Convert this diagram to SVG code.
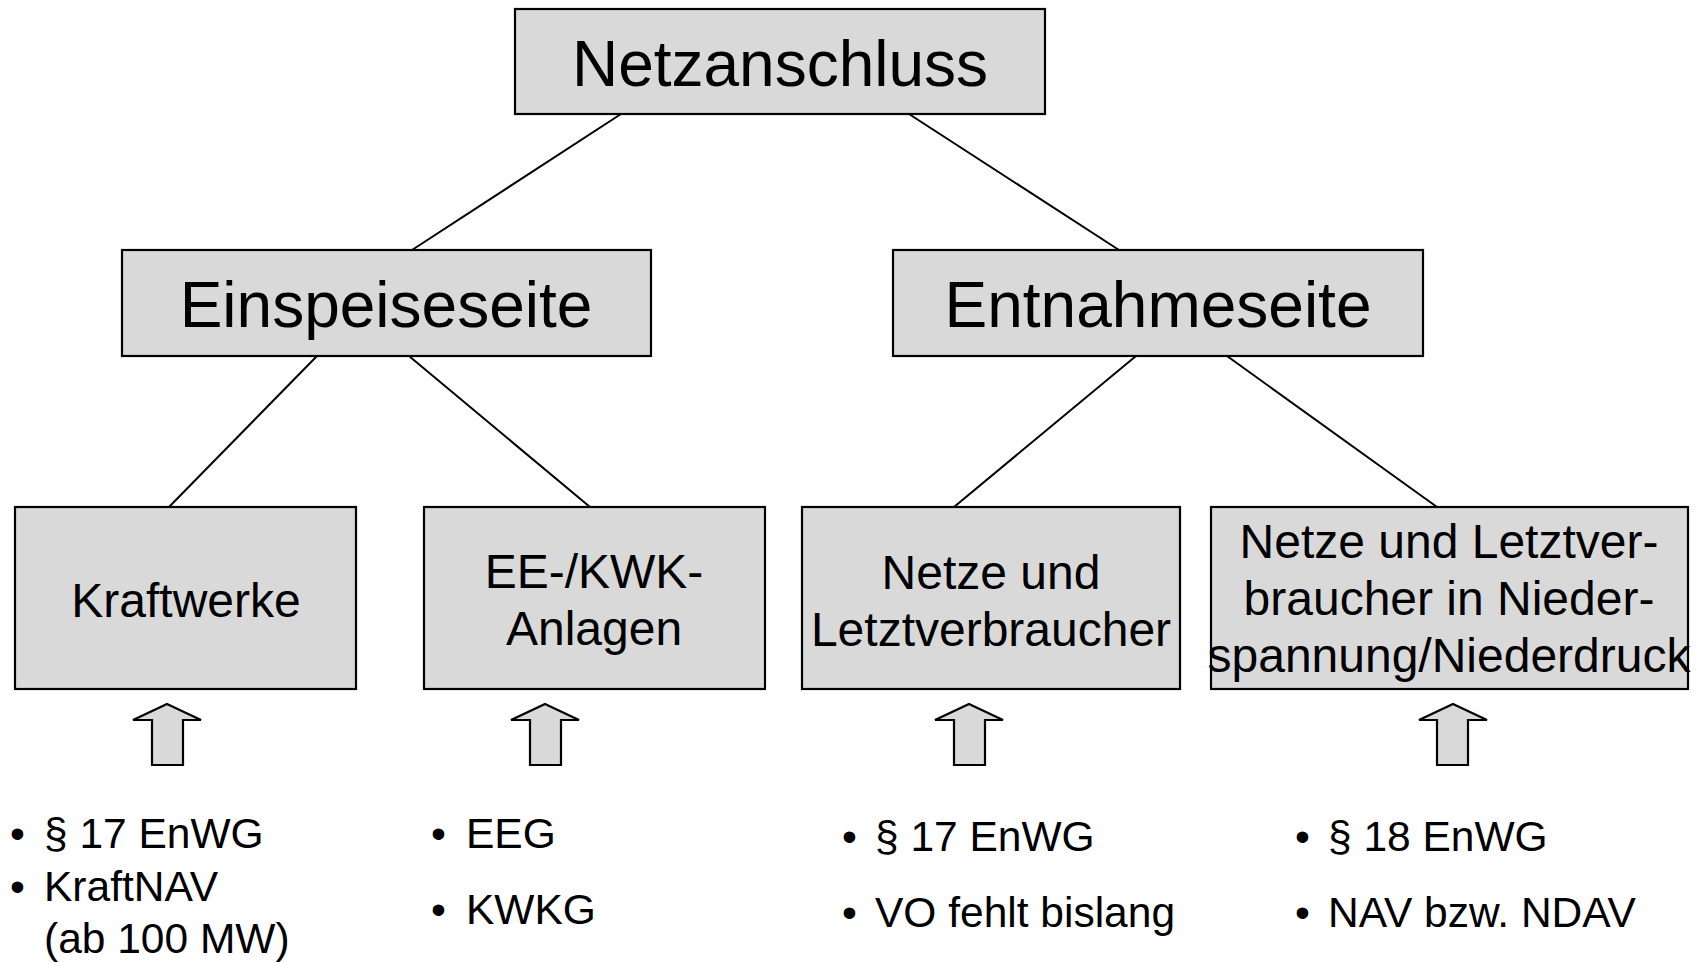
<svg xmlns="http://www.w3.org/2000/svg" width="1707" height="962" viewBox="0 0 1707 962">
<style>
.box{fill:#d9d9d9;stroke:#000;stroke-width:2.2}
.big{font-family:"Liberation Sans",Arial,sans-serif;font-size:64px;fill:#000;text-anchor:middle}
.mid{font-family:"Liberation Sans",Arial,sans-serif;font-size:48px;fill:#000;text-anchor:middle}
.lst{font-family:"Liberation Sans",Arial,sans-serif;font-size:42.5px;fill:#000}
.con{stroke:#000;stroke-width:2;fill:none}
.arr{fill:#d9d9d9;stroke:#000;stroke-width:2.2;stroke-linejoin:miter}
</style>
<rect width="1707" height="962" fill="#fff"/>
<g id="connectors">
<line class="con" x1="621" y1="114" x2="412" y2="250"/>
<line class="con" x1="909" y1="114" x2="1119" y2="250"/>
<line class="con" x1="317" y1="356" x2="169" y2="507"/>
<line class="con" x1="409" y1="356" x2="590" y2="507"/>
<line class="con" x1="1136" y1="356" x2="954" y2="507"/>
<line class="con" x1="1227" y1="356" x2="1437" y2="507"/>
</g>
<g id="netzanschluss">
<rect class="box" x="515" y="9" width="530" height="105"/>
<text class="big" x="780" y="86">Netzanschluss</text>
</g>
<g id="einspeiseseite">
<rect class="box" x="122" y="250" width="529" height="106"/>
<text class="big" x="386" y="327">Einspeiseseite</text>
</g>
<g id="entnahmeseite">
<rect class="box" x="893" y="250" width="530" height="106"/>
<text class="big" x="1158" y="327">Entnahmeseite</text>
</g>
<g id="kraftwerke">
<rect class="box" x="15" y="507" width="341" height="182"/>
<text class="mid" x="186" y="617">Kraftwerke</text>
</g>
<g id="ee-kwk">
<rect class="box" x="424" y="507" width="341" height="182"/>
<text class="mid" x="594" y="588">EE-/KWK-</text>
<text class="mid" x="594" y="645">Anlagen</text>
</g>
<g id="netze-letztverbraucher">
<rect class="box" x="802" y="507" width="378" height="182"/>
<text class="mid" x="991" y="589">Netze und</text>
<text class="mid" x="991" y="646">Letztverbraucher</text>
</g>
<g id="niederspannung">
<rect class="box" x="1211" y="507" width="477" height="182"/>
<text class="mid" x="1449" y="558">Netze und Letztver-</text>
<text class="mid" x="1449" y="615">braucher in Nieder-</text>
<text class="mid" x="1449" y="672">spannung/Niederdruck</text>
</g>
<g id="arrows">
<polygon class="arr" points="167,704 201,720 183,720 183,765 152,765 152,720 133,720"/>
<polygon class="arr" points="545,704 579,720 561,720 561,765 530,765 530,720 511,720"/>
<polygon class="arr" points="969,704 1003,720 985,720 985,765 954,765 954,720 935,720"/>
<polygon class="arr" points="1453,704 1487,720 1468,720 1468,765 1437,765 1437,720 1419,720"/>
</g>
<g id="list-kraftwerke">
<text class="lst" x="10" y="848">•</text><text class="lst" x="44" y="848">§ 17 EnWG</text>
<text class="lst" x="10" y="901">•</text><text class="lst" x="44" y="901">KraftNAV</text>
<text class="lst" x="44" y="953">(ab 100 MW)</text>
</g>
<g id="list-ee">
<text class="lst" x="431" y="848">•</text><text class="lst" x="466" y="848">EEG</text>
<text class="lst" x="431" y="924">•</text><text class="lst" x="466" y="924">KWKG</text>
</g>
<g id="list-netze">
<text class="lst" x="842" y="851">•</text><text class="lst" x="875" y="851">§ 17 EnWG</text>
<text class="lst" x="842" y="927">•</text><text class="lst" x="875" y="927">VO fehlt bislang</text>
</g>
<g id="list-nieder">
<text class="lst" x="1295" y="851">•</text><text class="lst" x="1328" y="851">§ 18 EnWG</text>
<text class="lst" x="1295" y="927">•</text><text class="lst" x="1328" y="927">NAV bzw. NDAV</text>
</g>
</svg>
